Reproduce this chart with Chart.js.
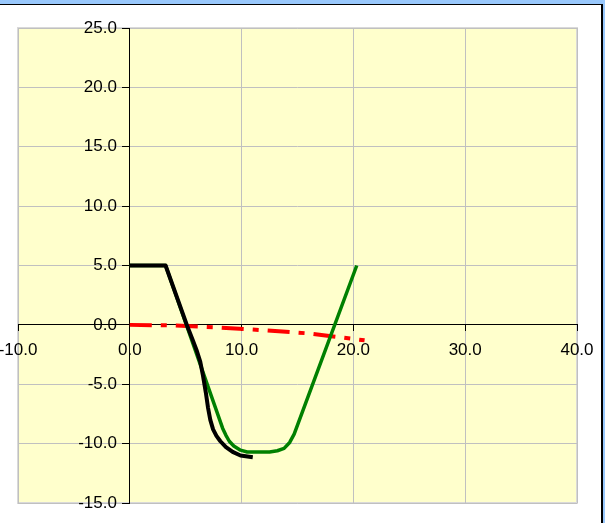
<!DOCTYPE html>
<html>
<head>
<meta charset="utf-8">
<script src="https://cdn.jsdelivr.net/npm/chart.js@4"></script>
<style>
    html, body { margin: 0; padding: 0; background: #fff; }
    #wrap { width: 605px; height: 523px; position: relative; }
</style>
</head>
<body>
<div id="wrap"><canvas id="chart" width="605" height="523"></canvas></div>
<script>
// --- Data ---
const xTicks = [-10, 0, 10, 20, 30, 40];
const yTicks = [-15, -10, -5, 0, 5, 10, 15, 20, 25];

const blackX = [0, 3.2, 5.1, 5.6, 6.0, 6.3, 6.55, 6.8, 7.0, 7.2, 7.45, 7.75, 8.1, 8.6, 9.2, 9.9, 11.0];
const blackY = [5, 5, 0, -1.2, -2.2, -3.1, -4.3, -5.7, -7.0, -8.0, -8.8, -9.35, -9.8, -10.3, -10.7, -11.0, -11.15];

const greenX = [0, 3.2, 8.3, 8.6, 8.9, 9.3, 9.9, 10.5, 12.5, 13.2, 13.8, 14.3, 14.7, 20.3];
const greenY = [5, 5, -8.7, -9.3, -9.8, -10.2, -10.55, -10.7, -10.7, -10.6, -10.4, -9.9, -9.2, 5];

const redX = [0, 4, 8, 12, 16, 21];
const redY = [0, -0.05, -0.22, -0.45, -0.72, -1.3];

const toPoints = (xs, ys) => xs.map((x, i) => ({ x: x, y: ys[i] }));

const tickFont = { family: "'Liberation Sans', Arial, sans-serif", size: 17 };

// window frame + yellow plot area
const backdrop = {
    id: 'backdrop',
    beforeDraw(chart) {
        const { ctx, chartArea: a, width } = chart;
        ctx.save();
        ctx.fillStyle = '#fff';
        ctx.fillRect(0, 0, width, chart.height);
        ctx.fillStyle = '#99c8fc';
        ctx.fillRect(0, 0, width, 4);
        ctx.fillRect(603, 0, 2, chart.height);
        ctx.fillStyle = '#000';
        ctx.fillRect(0, 4, 603, 1);
        ctx.fillRect(601, 4, 2, chart.height);
        ctx.fillStyle = '#ffffcc';
        ctx.fillRect(a.left, a.top, a.right - a.left, a.bottom - a.top);
        ctx.strokeStyle = '#d9d9d9';
        ctx.lineWidth = 2;
        ctx.strokeRect(a.left, a.top, a.right - a.left, a.bottom - a.top);
        ctx.restore();
    }
};

// centered axes shouldn't push the plot area around
const noPad = s => { s.paddingLeft = 0; s.paddingRight = 0; s.paddingTop = 0; s.paddingBottom = 0; };

function initChart() {
    const ctx = document.getElementById('chart').getContext('2d');

    new Chart(ctx, {
        type: 'scatter',
        data: {
            datasets: [
                {
                    label: 'black',
                    data: toPoints(blackX, blackY),
                    showLine: true,
                    borderColor: '#000',
                    borderWidth: 4,
                    borderJoinStyle: 'round',
                    pointRadius: 0,
                    tension: 0
                },
                {
                    label: 'green',
                    data: toPoints(greenX, greenY),
                    showLine: true,
                    borderColor: '#008000',
                    borderWidth: 3.5,
                    borderJoinStyle: 'round',
                    pointRadius: 0,
                    tension: 0
                },
                {
                    label: 'red',
                    data: toPoints(redX, redY),
                    showLine: true,
                    borderColor: '#ff0000',
                    borderWidth: 4,
                    borderDash: [22, 9, 6, 9],
                    pointRadius: 0,
                    tension: 0
                }
            ]
        },
        options: {
            responsive: false,
            animation: false,
            layout: { padding: { left: 18, top: 28, right: 28, bottom: 20 } },
            scales: {
                x: {
                    type: 'linear',
                    min: xTicks[0],
                    max: xTicks[xTicks.length - 1],
                    position: { y: 0 },
                    afterBuildTicks: s => { s.ticks = xTicks.map(v => ({ value: v })); },
                    afterFit: noPad,
                    ticks: {
                        color: '#000',
                        font: tickFont,
                        padding: 9,
                        maxRotation: 0,
                        autoSkip: false,
                        callback: v => v.toFixed(1)
                    },
                    grid: { color: '#c0c0c0', tickColor: '#000', tickLength: 6 },
                    border: { color: '#000', width: 1 }
                },
                y: {
                    type: 'linear',
                    min: yTicks[0],
                    max: yTicks[yTicks.length - 1],
                    position: { x: 0 },
                    afterBuildTicks: s => { s.ticks = yTicks.map(v => ({ value: v })); },
                    afterFit: noPad,
                    ticks: {
                        color: '#000',
                        font: tickFont,
                        autoSkip: false,
                        // labels sit flush on a centred axis, trailing spaces give the gap
                        callback: v => v.toFixed(1) + '  \u2009'
                    },
                    grid: { color: '#c0c0c0', tickColor: '#000', tickLength: 7 },
                    border: { color: '#000', width: 1 }
                }
            },
            plugins: {
                legend: { display: false },
                tooltip: { enabled: false }
            }
        },
        plugins: [backdrop]
    });
}

document.addEventListener('DOMContentLoaded', initChart);
</script>
</body>
</html>
